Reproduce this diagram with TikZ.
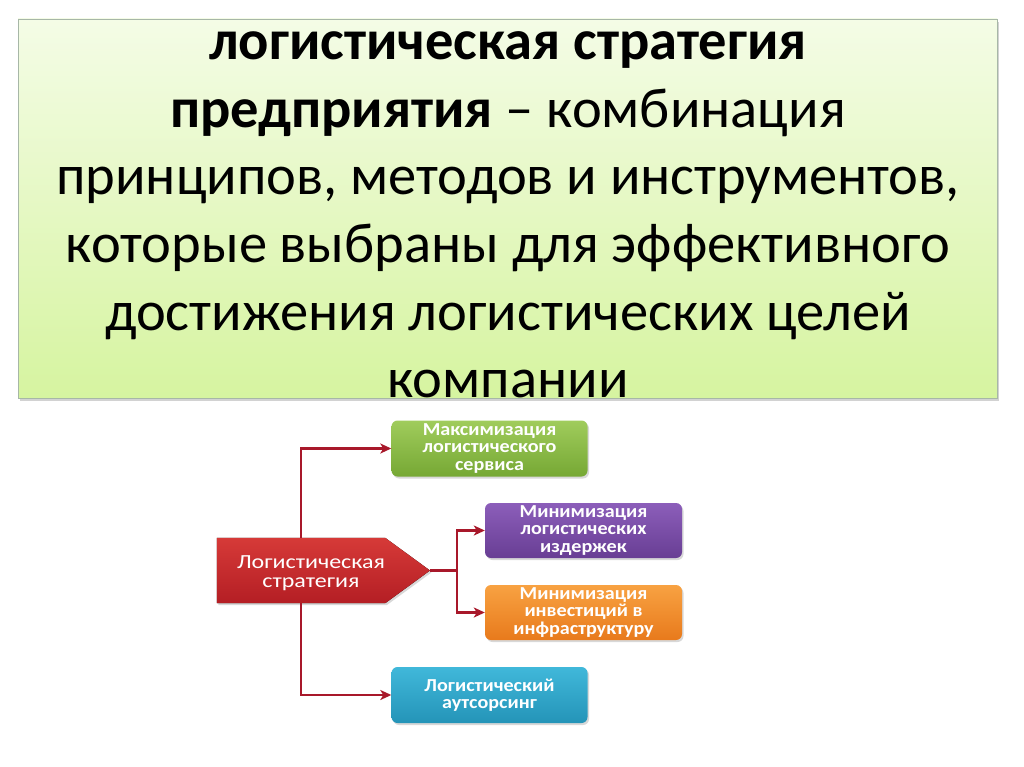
\documentclass[tikz,border=0pt]{standalone}
\usepackage{fontspec}
\setmainfont{Carlito}
\newfontfamily\boxfont[FakeStretch=1.1]{Carlito}
\newfontfamily\pentfont[FakeStretch=1.2]{Carlito}
\usetikzlibrary{shadows,arrows.meta}
\definecolor{conncol}{HTML}{A8182A}
\tikzset{
  titleline/.style={anchor=base, inner sep=0pt, font=\fontsize{56.5}{66}\selectfont, text=black},
  goalbox/.style={rounded corners=6pt, minimum width=196pt, minimum height=56pt, align=center,
     text=white, font=\boxfont\fontsize{18.3}{17.6}\selectfont\bfseries, inner sep=0pt,
     drop shadow={shadow xshift=1.5pt, shadow yshift=-2pt, opacity=0.3}},
  conn/.style={draw=conncol, line width=2.4pt, -{Stealth[length=11pt,width=10pt,inset=3pt]}},
  connplain/.style={draw=conncol, line width=2.4pt},
}
\begin{document}
\begin{tikzpicture}[x=1pt,y=-1pt]
\useasboundingbox (0,0) rectangle (1024,767);
\fill[white] (0,0) rectangle (1024,767);
% main text box
\node[draw=black!30!green!15!gray!60, line width=0.8pt, top color={rgb,255:red,244;green,252;blue,230}, bottom color={rgb,255:red,214;green,244;blue,160},
  minimum width=979pt, minimum height=379pt, inner sep=0pt,
  drop shadow={shadow xshift=2pt, shadow yshift=-3pt, opacity=0.35}] (mb) at (507.5,208.5) {};
\node[titleline] (t1) at (508,60) {\bfseries логистическая стратегия};
\node[titleline] (t2) at (508,127.5) {\textbf{предприятия} – комбинация};
\node[titleline] (t3) at (508,195) {принципов, методов и инструментов,};
\node[titleline] (t4) at (508,262.5) {которые выбраны для эффективного};
\node[titleline] (t5) at (508,330) {достижения логистических целей};
\node[titleline] (t6) at (508,397.5) {компании};
% strategy pentagon
\node[minimum width=168pt, minimum height=65pt, inner sep=0pt] (ls) at (301,570.5) {};
\coordinate (tip) at (430,570.5);
\fill[drop shadow={shadow xshift=1.5pt, shadow yshift=-2pt, opacity=0.3}, top color={rgb,255:red,214;green,58;blue,56}, bottom color={rgb,255:red,180;green,30;blue,36}]
  (ls.north west) -- (ls.north east) -- (tip) -- (ls.south east) -- (ls.south west) -- cycle;
\node[text=white, align=center, inner sep=0pt, font=\pentfont\fontsize{20}{19.5}\selectfont] (lst) at (311,573) {Логистическая\\стратегия};
% goal boxes
\node[goalbox, top color={rgb,255:red,160;green,204;blue,92}, bottom color={rgb,255:red,118;green,168;blue,52}] (g) at (489.5,448.5) {Максимизация\\логистического\\сервиса};
\node[goalbox, minimum width=197pt, minimum height=55pt, top color={rgb,255:red,140;green,94;blue,186}, bottom color={rgb,255:red,104;green,62;blue,148}] (p) at (583.5,530.5) {Минимизация\\логистических\\издержек};
\node[goalbox, minimum width=197pt, minimum height=55pt, top color={rgb,255:red,248;green,162;blue,66}, bottom color={rgb,255:red,232;green,122;blue,28}] (o) at (583.5,612.5) {Минимизация\\инвестиций в\\инфраструктуру};
\node[goalbox, top color={rgb,255:red,64;green,184;blue,218}, bottom color={rgb,255:red,36;green,148;blue,184}] (b) at (489.5,695) {Логистический\\аутсорсинг};
% connectors
\coordinate (j) at (457,570.5);
\draw[connplain] (tip) -- (j);
\draw[conn] (ls.north) |- (g.west);
\draw[conn] (ls.south) |- (b.west);
\draw[conn] (j) |- (p.west);
\draw[conn] (j) |- (o.west);
\end{tikzpicture}
\end{document}
